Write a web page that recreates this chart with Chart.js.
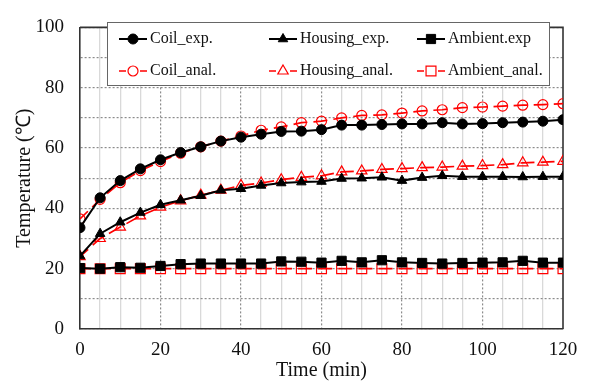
<!DOCTYPE html>
<html><head><meta charset="utf-8">
<script src="https://cdn.jsdelivr.net/npm/chart.js@4/dist/chart.umd.min.js"></script>
<style>html,body{margin:0;padding:0;background:#fff}#wrap{width:592px;height:381px}</style>
</head><body><div id="wrap"><canvas id="c" width="592" height="381"></canvas></div>
<script>
const time = [0,5,10,15,20,25,30,35,40,45,50,55,60,65,70,75,80,85,90,95,100,105,110,115,120];
const coilExp = [33.6,43.5,49.2,53.1,56.1,58.5,60.4,62.3,63.6,64.6,65.5,65.6,66.1,67.6,67.6,67.8,68.0,68.0,68.4,68.0,68.1,68.4,68.6,68.9,69.4];
const housingExp = [24.2,31.6,35.4,38.6,41.2,42.7,44.2,46.0,46.5,47.6,48.4,48.7,48.9,49.9,50.0,50.3,49.2,50.2,50.8,50.5,50.5,50.5,50.4,50.5,50.5];
const ambientExp = [20.2,20.0,20.5,20.3,20.9,21.5,21.7,21.7,21.7,21.7,22.4,22.3,22.0,22.6,22.1,22.8,22.1,21.9,21.7,21.9,22.0,22.1,22.6,22.0,22.0];
const coilAnal = [36.5,43.0,48.5,52.5,55.5,58.3,60.4,62.3,64.0,65.9,67.0,68.4,68.9,70.0,70.8,71.0,71.6,72.3,72.7,73.4,73.6,73.9,74.2,74.4,74.7];
const housingAnal = [24.0,30.0,33.8,37.5,40.4,42.5,44.4,46.0,47.6,48.4,49.5,50.3,50.8,52.1,52.4,52.9,53.2,53.5,53.7,54.0,54.2,54.5,55.1,55.3,55.6];
const ambientAnal = [20.0,20.0,20.0,20.0,20.0,20.0,20.0,20.0,20.0,20.0,20.0,20.0,20.0,20.0,20.0,20.0,20.0,20.0,20.0,20.0,20.0,20.0,20.0,20.0,20.0];
const seriesNames = ['Coil_exp.','Housing_exp.','Ambient.exp','Coil_anal.','Housing_anal.','Ambient_anal.'];
const yTicks = [0,20,40,60,80,100];
const xTicks = [0,20,40,60,80,100,120];

const FONT = "'Liberation Serif','Times New Roman',serif";
function pts(arr){ return time.map((t,i)=>({x:t,y:arr[i]})); }
function expDs(label, arr, style, r){
  return {label, data: pts(arr), borderColor:'#000', borderWidth:2, pointStyle:style, pointRadius:r,
    pointBackgroundColor:'#000', pointBorderColor:'#000', pointBorderWidth:1, tension:0, fill:false};
}
function analDs(label, arr, style, r){
  return {label, data: pts(arr), borderColor:'#ff0000', borderWidth:1.7, borderDash:[14,6.1], borderDashOffset:3,
    pointStyle:style, pointRadius:r,
    pointBackgroundColor:'rgba(255,255,255,0)', pointBorderColor:'#ff0000', pointBorderWidth:1.2, tension:0, fill:false};
}
const datasets = [
  expDs(seriesNames[0], coilExp, 'circle', 5),
  expDs(seriesNames[1], housingExp, 'triangle', 5.5),
  expDs(seriesNames[2], ambientExp, 'rect', 6.5),
  analDs(seriesNames[3], coilAnal, 'circle', 5),
  analDs(seriesNames[4], housingAnal, 'triangle', 6),
  analDs(seriesNames[5], ambientAnal, 'rect', 7)
];

const framePlugin = {
  id:'frame',
  beforeDatasetsDraw(chart){
    const {ctx, chartArea:a} = chart;
    ctx.save(); ctx.strokeStyle='#333'; ctx.lineWidth=1.6;
    ctx.beginPath(); ctx.moveTo(a.left,a.top); ctx.lineTo(a.right,a.top); ctx.lineTo(a.right,a.bottom); ctx.stroke();
    ctx.restore();
  }
};
const legendPlugin = {
  id:'boxLegend',
  afterDraw(chart){
    const ctx = chart.ctx;
    ctx.save();
    ctx.fillStyle='#fff'; ctx.fillRect(107,22,443,64);
    ctx.strokeStyle='#666'; ctx.lineWidth=1; ctx.strokeRect(107.5,22.5,442,63);
    const cols=[133,283,431], rows=[39,71];
    chart.data.datasets.forEach((ds,i)=>{
      const cx = cols[i%3], cy = rows[Math.floor(i/3)];
      ctx.save();
      ctx.strokeStyle = ds.borderColor; ctx.lineWidth = ds.borderWidth;
      if (ds.borderDash){
        ctx.beginPath(); ctx.moveTo(cx-14,cy); ctx.lineTo(cx-7,cy); ctx.moveTo(cx+7,cy); ctx.lineTo(cx+14,cy); ctx.stroke();
      } else {
        ctx.beginPath(); ctx.moveTo(cx-14,cy); ctx.lineTo(cx+14,cy); ctx.stroke();
      }
      ctx.fillStyle = ds.borderDash ? '#fff' : ds.pointBackgroundColor; ctx.strokeStyle = ds.pointBorderColor; ctx.lineWidth = ds.pointBorderWidth;
      Chart.helpers.drawPoint(ctx, {pointStyle:ds.pointStyle, radius:ds.pointRadius, borderWidth:ds.pointBorderWidth, rotation:0}, cx, cy);
      ctx.restore();
      ctx.fillStyle='#111'; ctx.font = "16px " + FONT; ctx.textBaseline='middle'; ctx.textAlign='left';
      ctx.fillText(ds.label, cx+17, cy);
    });
    ctx.restore();
  }
};

new Chart(document.getElementById('c'), {
  type:'line',
  data:{datasets},
  options:{
    responsive:false, animation:false, devicePixelRatio:1,
    layout:{padding:{left:0,top:16,right:29,bottom:0}},
    plugins:{legend:{display:false}, tooltip:{enabled:false}},
    scales:{
      x:{type:'linear', position:'bottom', min:0, max:120,
        afterBuildTicks(s){ s.ticks = time.map(v=>({value:v})); },
        afterFit(s){ s.height = 52; },
        ticks:{autoSkip:false, maxRotation:0, padding:10, color:'#111', font:{family:FONT,size:19},
          callback:(v)=> xTicks.includes(v) ? String(v) : ''},
        grid:{color:(c)=> (c.tick && c.tick.value%20===0) ? 'rgba(0,0,0,0)' : '#d9d9d9', lineWidth:1.3, drawTicks:false},
        border:{display:true, color:'#333', width:1.6},
        title:{display:true, text:'Time (min)', color:'#111', font:{family:FONT,size:20, lineHeight:1}, padding:{top:0,bottom:0}}
      },
      x2:{type:'linear', position:'bottom', min:0, max:120,
        afterBuildTicks(s){ s.ticks = xTicks.map(v=>({value:v})); },
        afterFit(s){ s.height = 0; },
        ticks:{display:false},
        grid:{color:(c)=> (c.tick && (c.tick.value===0||c.tick.value===120)) ? 'rgba(0,0,0,0)' : '#8c8c8c', lineWidth:1.2, drawTicks:false},
        border:{display:false, dash:[2,2]}
      },
      y:{type:'linear', min:0, max:100,
        afterBuildTicks(s){ const t=[]; for(let v=0; v<=100; v+=10) t.push({value:v}); s.ticks=t; },
        afterFit(s){ s.width = 80; },
        ticks:{padding:16, color:'#111', font:{family:FONT,size:19}, callback:(v)=> yTicks.includes(v) ? String(v) : ''},
        grid:{color:'#8c8c8c', lineWidth:1.2, drawTicks:false},
        border:{display:true, color:'#333', width:1.6, dash:[2,2]},
        title:{display:true, text:'Temperature (℃)', color:'#111', font:{family:FONT,size:20,lineHeight:1}, padding:{top:15,bottom:0}}
      }
    }
  },
  plugins:[framePlugin, legendPlugin]
});
</script></body></html>
